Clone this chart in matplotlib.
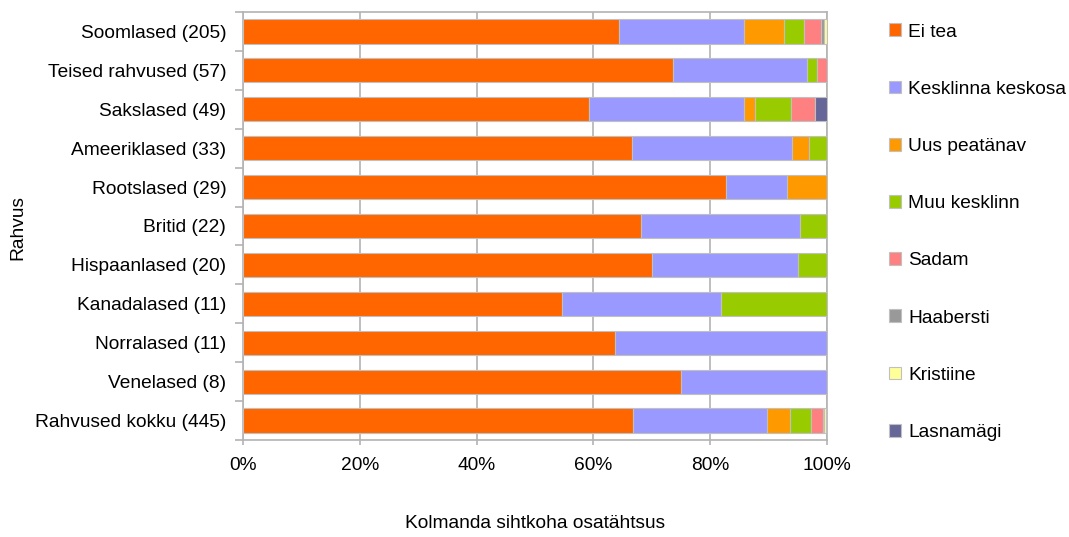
import matplotlib
matplotlib.use("Agg")
import matplotlib.pyplot as plt
import numpy as np
from matplotlib.patches import Patch
from matplotlib.ticker import FixedLocator, PercentFormatter

plt.rcParams['font.family'] = ['Liberation Sans', 'DejaVu Sans']

categories = ["Soomlased (205)", "Teised rahvused (57)", "Sakslased (49)", "Ameeriklased (33)",
              "Rootslased (29)", "Britid (22)", "Hispaanlased (20)", "Kanadalased (11)",
              "Norralased (11)", "Venelased (8)", "Rahvused kokku (445)"]
series_names = ["Ei tea", "Kesklinna keskosa", "Uus peatänav", "Muu kesklinn",
                "Sadam", "Haabersti", "Kristiine", "Lasnamägi"]
# counts per category (same order as categories)
ei_tea     = [132, 42, 29, 22, 24, 15, 14, 6, 7, 6, 297]
kesklinna  = [44, 13, 13, 9, 3, 6, 5, 3, 4, 2, 102]
uus        = [14, 0, 1, 1, 2, 0, 0, 0, 0, 0, 18]
muu        = [7, 1, 3, 1, 0, 1, 1, 2, 0, 0, 16]
sadam      = [6, 1, 2, 0, 0, 0, 0, 0, 0, 0, 9]
haabersti  = [1, 0, 0, 0, 0, 0, 0, 0, 0, 0, 1]
kristiine  = [1, 0, 0, 0, 0, 0, 0, 0, 0, 0, 1]
lasnamagi  = [0, 0, 1, 0, 0, 0, 0, 0, 0, 0, 1]
colors = ["#FF6600", "#9999FF", "#FF9900", "#99CC00", "#FF8080", "#999999", "#FFFF99", "#666699"]
xticks = [0, 20, 40, 60, 80, 100]

data = np.array([ei_tea, kesklinna, uus, muu, sadam, haabersti, kristiine, lasnamagi], dtype=float)
pct = data / data.sum(axis=0) * 100

W, H = 1069, 537
FS = 13.8
fig = plt.figure(figsize=(W / 100, H / 100), dpi=100)
ax = fig.add_axes([243 / W, 1 - 440 / H, (827 - 243) / W, (440 - 12) / H])

grid_c = "#b3b3b3"
y = np.arange(len(categories))
left = np.zeros(len(categories))
for i, name in enumerate(series_names):
    ax.barh(y, pct[i], left=left, height=0.62, color=colors[i], edgecolor="#c0c0c0",
            linewidth=0.8, zorder=3, label=name)
    left += pct[i]

ax.set_xlim(0, 100)
ax.set_ylim(len(categories) - 0.5, -0.5)
ax.set_xticks(xticks)
ax.xaxis.set_major_formatter(PercentFormatter(decimals=0))
ax.xaxis.grid(True, color=grid_c, linewidth=1.2, zorder=0)
ax.set_axisbelow(True)
ax.set_yticks(y)
ax.set_yticklabels(categories)
ax.yaxis.set_minor_locator(FixedLocator(np.arange(-0.5, len(categories), 1.0)))
ax.tick_params(axis='y', which='major', length=0, pad=12, labelsize=FS)
ax.tick_params(axis='y', which='minor', length=6, width=1.2, color=grid_c)
ax.tick_params(axis='x', which='major', length=3.6, width=1.2, color=grid_c, pad=8.5, labelsize=FS)
for s in ax.spines.values():
    s.set_color(grid_c)
    s.set_linewidth(1.2)

fig.text(535 / W, 1 - 524 / H, "Kolmanda sihtkoha osatähtsus", ha='center', va='center', fontsize=FS)
fig.text(18 / W, 1 - 228 / H, "Rahvus", ha='center', va='center', rotation=90, fontsize=FS)

handles = [Patch(facecolor=c, edgecolor="#c0c0c0", linewidth=0.8) for c in colors]
leg = fig.legend(handles, series_names, loc='upper left', bbox_to_anchor=(889 / W, 1 - 23.5 / H),
                 frameon=False, fontsize=FS, handlelength=0.65, handleheight=0.65,
                 handletextpad=0.35, labelspacing=2.09, borderaxespad=0, borderpad=0)

fig.savefig("out.png", dpi=100)
